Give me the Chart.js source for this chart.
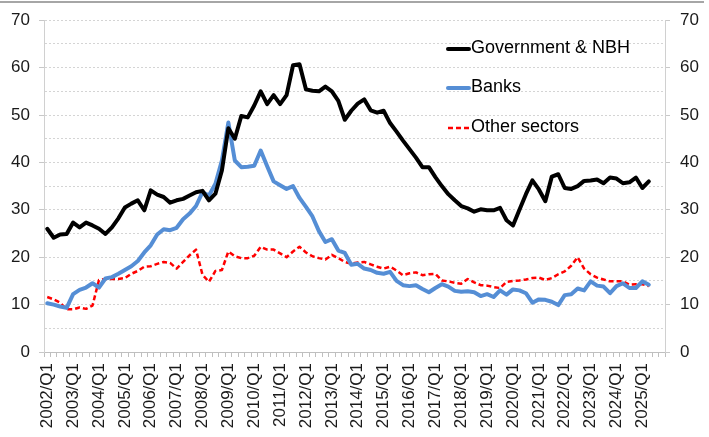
<!DOCTYPE html>
<html>
<head>
<meta charset="utf-8">
<script src="https://cdn.jsdelivr.net/npm/chart.js@4.4.1/dist/chart.umd.min.js"></script>
<style>
html,body{margin:0;padding:0;background:#fff;}
#wrap{position:relative;width:709px;height:437px;}
</style>
</head>
<body>
<div id="wrap"><canvas id="c" width="709" height="437"></canvas></div>
<script>
const years = ['2002','2003','2004','2005','2006','2007','2008','2009','2010','2011','2012','2013','2014','2015','2016','2017','2018','2019','2020','2021','2022','2023','2024','2025'];
const quarters = ['Q1','Q2','Q3','Q4'];
const categories = [];
years.forEach(y => quarters.forEach(q => categories.push(y + '/' + q)));

const government = [
  26.0, 24.1, 24.8, 24.9, 27.3, 26.3, 27.3, 26.7, 26.0, 24.9, 26.3, 28.2,
  30.5, 31.3, 32.0, 29.9, 34.1, 33.2, 32.7, 31.5, 32.0, 32.3, 33.0, 33.7,
  34.0, 32.0, 33.4, 38.3, 47.2, 45.0, 49.8, 49.5, 52.0, 55.0, 52.3, 54.2,
  52.3, 54.2, 60.5, 60.7, 55.4, 55.1, 55.0, 56.0, 55.0, 53.0, 49.0, 50.9,
  52.4, 53.3, 51.0, 50.5, 50.9, 48.3, 46.5, 44.6, 42.8, 41.0, 39.0, 39.0,
  36.9, 35.0, 33.3, 32.0, 30.8, 30.3, 29.6, 30.1, 29.9, 29.9, 30.4, 27.8,
  26.7, 30.0, 33.3, 36.2, 34.3, 31.8, 37.0, 37.5, 34.6, 34.4, 35.0, 36.1,
  36.2, 36.4, 35.6, 36.8, 36.6, 35.6, 35.8, 36.8, 34.6, 36.0, null, null
];
const banks = [
  10.3, 10.0, 9.6, 9.3, 12.2, 13.1, 13.6, 14.5, 13.6, 15.5, 15.8, 16.5,
  17.3, 18.1, 19.2, 21.0, 22.5, 24.8, 25.9, 25.7, 26.2, 28.0, 29.2, 30.8,
  33.7, 33.0, 35.5, 40.4, 48.4, 40.4, 39.0, 39.1, 39.3, 42.5, 39.2, 36.0,
  35.2, 34.4, 35.0, 32.5, 30.6, 28.6, 25.5, 23.2, 23.8, 21.4, 20.9, 18.4,
  18.6, 17.6, 17.3, 16.7, 16.5, 16.9, 15.0, 14.1, 13.9, 14.1, 13.3, 12.6,
  13.5, 14.3, 13.8, 12.9, 12.7, 12.8, 12.6, 11.8, 12.2, 11.6, 13.0, 12.1,
  13.2, 13.0, 12.4, 10.4, 11.1, 11.0, 10.6, 9.9, 12.0, 12.2, 13.4, 13.0,
  14.9, 14.0, 13.8, 12.4, 13.9, 14.5, 13.5, 13.5, 14.9, 14.2, null, null
];
const otherSectors = [
  11.6, 11.1, 10.4, 9.0, 9.0, 9.4, 9.1, 9.8, 15.2, 15.4, 15.4, 15.4,
  15.6, 16.5, 17.1, 18.0, 18.1, 18.6, 19.0, 18.8, 17.6, 19.0, 20.4, 21.6,
  16.3, 14.8, 17.1, 17.3, 21.2, 20.2, 19.8, 19.8, 20.3, 22.2, 21.6, 21.6,
  20.8, 20.0, 21.2, 22.2, 21.0, 20.2, 19.8, 19.5, 20.5, 19.8, 19.0, 18.6,
  18.9, 19.0, 18.5, 18.0, 17.6, 18.0, 17.2, 16.2, 16.6, 16.8, 16.2, 16.4,
  16.5, 15.1, 14.9, 14.6, 14.4, 15.4, 14.7, 14.1, 14.0, 13.7, 13.5, 14.8,
  15.0, 15.1, 15.3, 15.6, 15.7, 15.2, 15.6, 16.4, 17.0, 18.2, 20.0, 17.6,
  16.4, 15.7, 15.3, 14.9, 14.9, 14.9, 14.2, 14.3, 14.3, 13.9, null, null
];
const seriesNames = ['Government & NBH', 'Banks', 'Other sectors'];
const yTicks = [0, 10, 20, 30, 40, 50, 60, 70];

const FONT = "'Liberation Sans', Arial, sans-serif";
Chart.defaults.font.family = FONT;
Chart.defaults.font.size = 17;
Chart.defaults.color = '#1a1a1a';

const colors = ['#000000', '#558ED5', '#FF0000'];

const topLine = {
  id: 'topLine',
  beforeDraw(chart) {
    const ctx = chart.ctx;
    ctx.save();
    ctx.strokeStyle = '#a6a6a6';
    ctx.lineWidth = 2;
    ctx.beginPath();
    ctx.moveTo(0, 2);
    ctx.lineTo(704, 2);
    ctx.stroke();
    ctx.restore();
  }
};

const legendPlugin = {
  id: 'innerLegend',
  afterDraw(chart) {
    const ctx = chart.ctx;
    const ys = [48, 87, 127];
    ctx.save();
    ctx.font = '18px ' + FONT;
    ctx.textBaseline = 'middle';
    ctx.fillStyle = '#000';
    seriesNames.forEach((name, i) => {
      ctx.beginPath();
      ctx.strokeStyle = colors[i];
      if (i === 2) { ctx.lineWidth = 2.5; ctx.setLineDash([5, 3]); ctx.lineCap = 'butt'; }
      else { ctx.lineWidth = 4; ctx.setLineDash([]); ctx.lineCap = 'round'; }
      ctx.moveTo(448, ys[i] + 1);
      ctx.lineTo(469, ys[i] + 1);
      ctx.stroke();
      ctx.setLineDash([]);
      ctx.fillText(name, 471, ys[i]);
    });
    ctx.restore();
  }
};

const yScaleBase = (pos) => ({
  position: pos,
  min: 0,
  max: 70,
  afterFit(scale) { scale.width = 44; },
  afterBuildTicks(scale) {
    const t = [];
    for (const v of yTicks) { t.push({ value: v }); if (v < 70) t.push({ value: v + 5 }); }
    scale.ticks = t.sort((a, b) => a.value - b.value);
  },
  ticks: {
    padding: pos === 'left' ? 9 : 10,
    color: '#1a1a1a',
    font: { size: 17 },
    callback: (v) => (yTicks.includes(v) ? String(v) : '')
  },
  grid: {
    drawOnChartArea: pos === 'left',
    color: (c) => (c.tick && c.tick.value === 0 ? 'rgba(0,0,0,0)' : '#d4d4d4'),
    lineWidth: 1,
    tickLength: 5,
    tickColor: (c) => (c.tick && c.tick.value % 10 === 0 ? '#c8c8c8' : 'rgba(0,0,0,0)'),
    tickWidth: 1
  },
  border: { display: true, color: '#d0d0d0', width: 1, dash: [2, 2] }
});

new Chart(document.getElementById('c'), {
  type: 'line',
  data: {
    labels: categories,
    datasets: [
      { label: seriesNames[0], data: government, borderColor: colors[0], borderWidth: 4, borderJoinStyle: 'round', borderCapStyle: 'round', pointRadius: 0, tension: 0, yAxisID: 'y', order: 1 },
      { label: seriesNames[1], data: banks, borderColor: colors[1], borderWidth: 4, borderJoinStyle: 'round', borderCapStyle: 'round', pointRadius: 0, tension: 0, yAxisID: 'y', order: 2 },
      { label: seriesNames[2], data: otherSectors, borderColor: colors[2], borderWidth: 2.5, borderDash: [5, 3], borderJoinStyle: 'round', pointRadius: 0, tension: 0, yAxisID: 'y', order: 3 }
    ]
  },
  options: {
    responsive: false,
    animation: false,
    layout: { padding: { top: 19, left: 0, right: 0, bottom: 0 } },
    plugins: { legend: { display: false }, tooltip: { enabled: false } },
    scales: {
      x: {
        offset: true,
        afterFit(scale) { scale.height = 85; },
        ticks: {
          autoSkip: false,
          minRotation: 90,
          maxRotation: 90,
          padding: 6,
          color: '#1a1a1a',
          font: { size: 17 },
          callback: function (val, idx) {
            const l = categories[idx];
            return l.endsWith('Q1') ? l : '';
          }
        },
        grid: {
          offset: true,
          drawOnChartArea: false,
          drawTicks: true,
          tickLength: 5,
          color: '#bfbfbf',
          tickColor: '#bfbfbf'
        },
        border: { display: true, color: '#bfbfbf', width: 1 }
      },
      y: yScaleBase('left'),
      y2: yScaleBase('right')
    }
  },
  plugins: [topLine, legendPlugin]
});
</script>
</body>
</html>
